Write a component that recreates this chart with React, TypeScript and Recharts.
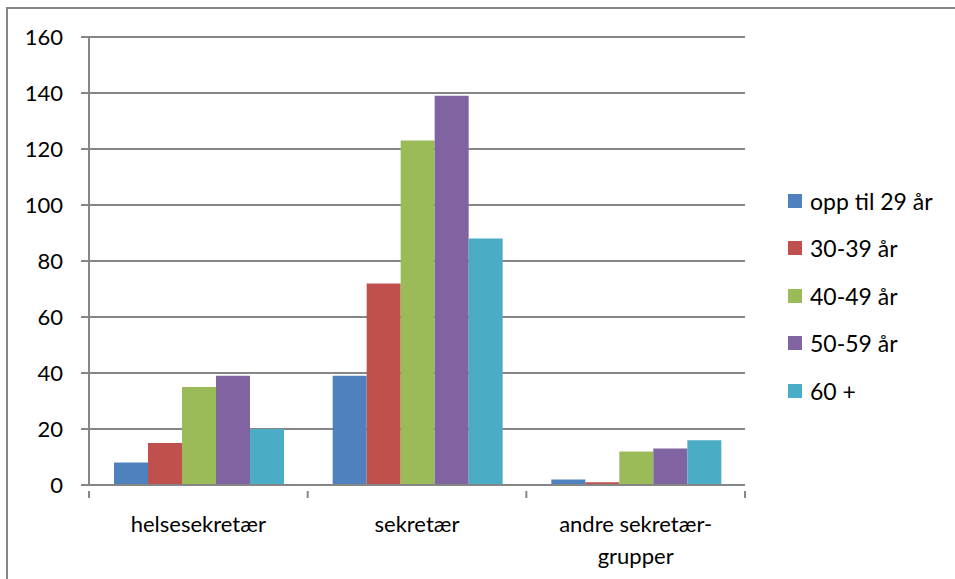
import React from 'react';
import { BarChart, Bar, XAxis, YAxis, CartesianGrid } from 'recharts';

const categories = ['helsesekretær', 'sekretær', 'andre sekretær-grupper'];
const seriesNames = ['opp til 29 år', '30-39 år', '40-49 år', '50-59 år', '60 +'];
const age0 = [8, 39, 2];
const age30 = [15, 72, 1];
const age40 = [35, 123, 12];
const age50 = [39, 139, 13];
const age60 = [20, 88, 16];
const yTicks = [0, 20, 40, 60, 80, 100, 120, 140, 160];

const colors = ['#4F81BD', '#C0504D', '#9BBB59', '#8064A2', '#4BACC6'];
const keys = ['a0', 'a30', 'a40', 'a50', 'a60'];

const data = categories.map((c, i) => ({
  name: c,
  a0: age0[i],
  a30: age30[i],
  a40: age40[i],
  a50: age50[i],
  a60: age60[i],
}));

const FONT = 'Lato, "Open Sans", sans-serif';
const AXIS = '#868686';

// category label, plus boundary tick marks like excel draws them
const CatTick = (props: any) => {
  const { x, y, payload, index } = props;
  const half = payload.offset || 109;
  const label: string = payload.value;
  const lines = label.endsWith('grupper') ? ['andre sekretær-', 'grupper'] : [label];
  return (
    <g>
      <line x1={x - half} x2={x - half} y1={y} y2={y + 7} stroke={AXIS} strokeWidth={2} />
      {index === categories.length - 1 && (
        <line x1={x + half} x2={x + half} y1={y} y2={y + 7} stroke={AXIS} strokeWidth={2} />
      )}
      {lines.map((l, i) => (
        <text
          key={i}
          x={x}
          y={y + 41 + i * 32}
          textAnchor="middle"
          fontFamily={FONT}
          fontSize={22}
          fill="#000"
        >
          {l}
        </text>
      ))}
    </g>
  );
};

const LegendBox = () => (
  <div style={{ position: 'absolute', left: 788, top: 177, fontFamily: FONT, fontSize: 23 }}>
    {seriesNames.map((s, i) => (
      <div key={s} style={{ display: 'flex', alignItems: 'center', height: 47.5 }}>
        <div style={{ width: 14, height: 14, background: colors[i], marginRight: 8 }} />
        <span style={{ lineHeight: '28px' }}>{s}</span>
      </div>
    ))}
  </div>
);

export default function App() {
  return (
    <div
      style={{
        position: 'absolute',
        left: 0,
        top: 0,
        width: 955,
        height: 579,
        overflow: 'hidden',
        background: '#fff',
      }}
    >
      <div
        style={{
          position: 'absolute',
          left: 6,
          top: 7,
          width: 980,
          height: 600,
          border: `2px solid ${AXIS}`,
          boxSizing: 'border-box',
        }}
      />
      <div style={{ position: 'absolute', left: 0, top: 0 }}>
        <BarChart
          width={955}
          height={579}
          data={data}
          margin={{ top: 37, right: 210, bottom: 0, left: 0 }}
          barGap={0}
          barCategoryGap={25}
        >
          <CartesianGrid vertical={false} stroke={AXIS} strokeWidth={2} />
          <XAxis
            dataKey="name"
            height={94}
            axisLine={{ stroke: AXIS, strokeWidth: 2 }}
            tickLine={false}
            tickMargin={0}
            interval={0}
            tick={<CatTick />}
          />
          <YAxis
            width={89}
            domain={[0, 160]}
            ticks={yTicks}
            interval={0}
            axisLine={{ stroke: AXIS, strokeWidth: 2 }}
            tickLine={{ stroke: AXIS, strokeWidth: 2 }}
            tickSize={8}
            tickMargin={18}
            tick={{ fontFamily: FONT, fontSize: 22, fill: '#000' }}
          />
          {keys.map((k, i) => (
            <Bar key={k} dataKey={k} name={seriesNames[i]} fill={colors[i]} isAnimationActive={false} />
          ))}
        </BarChart>
      </div>
      <LegendBox />
    </div>
  );
}
